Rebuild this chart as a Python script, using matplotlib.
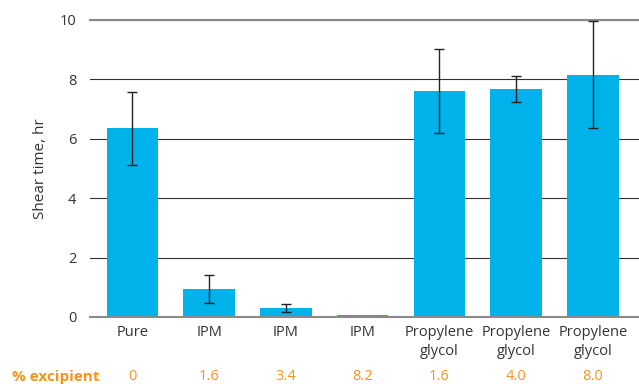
import matplotlib.pyplot as plt
import numpy as np

plt.rcParams['font.family'] = ['Open Sans', 'DejaVu Sans']

# data
categories = ['Pure', 'IPM', 'IPM', 'IPM', 'Propylene\nglycol', 'Propylene\nglycol', 'Propylene\nglycol']
excipient = ['0', '1.6', '3.4', '8.2', '1.6', '4.0', '8.0']
shear_time = [6.35, 0.94, 0.30, 0.06, 7.61, 7.68, 8.15]
shear_err = [1.22, 0.46, 0.13, np.nan, 1.40, 0.44, 1.80]

bar_col = '#00b2ea'
orange = '#f7941d'
txt_col = '#333333'

fig = plt.figure(figsize=(6.39, 3.84), dpi=100)
ax = fig.add_axes([0.141, 0.1745, 0.859, 0.7735])

x = np.arange(len(categories))
ax.bar(x, shear_time, width=0.67, color=bar_col, zorder=2)
ax.errorbar(x, shear_time, yerr=shear_err, fmt='none', ecolor='#222222',
            elinewidth=1, capsize=3.5, capthick=1, zorder=3)

ax.set_xlim(-0.55, 6.6)
ax.set_ylim(0, 10)
ax.set_yticks([0, 2, 4, 6, 8, 10])
ax.yaxis.grid(True, color='#333333', linewidth=0.8, zorder=0)
ax.set_axisbelow(True)

for s in ['left', 'right']:
    ax.spines[s].set_visible(False)
for s in ['top', 'bottom']:
    ax.spines[s].set_color('#8a8a8a')
    ax.spines[s].set_linewidth(1.5)

ax.tick_params(axis='y', length=0, pad=10, labelsize=10.5, labelcolor=txt_col)
ax.tick_params(axis='x', length=0, pad=6, labelsize=10.5, labelcolor=txt_col)
ax.set_xticks(x)
ax.set_xticklabels(categories, linespacing=1.35)

ax.set_ylabel('Shear time, hr', fontsize=11, color=txt_col, labelpad=8)

trans = ax.get_xaxis_transform()
for xi, e in zip(x, excipient):
    ax.text(xi, -0.202, e, transform=trans, ha='center', va='center',
            color=orange, fontsize=10.5, clip_on=False)
fig.text(0.018, 0.018, '% excipient', ha='left', va='center', color=orange,
         fontsize=11, fontweight='bold')

fig.savefig('out.png', dpi=100)
